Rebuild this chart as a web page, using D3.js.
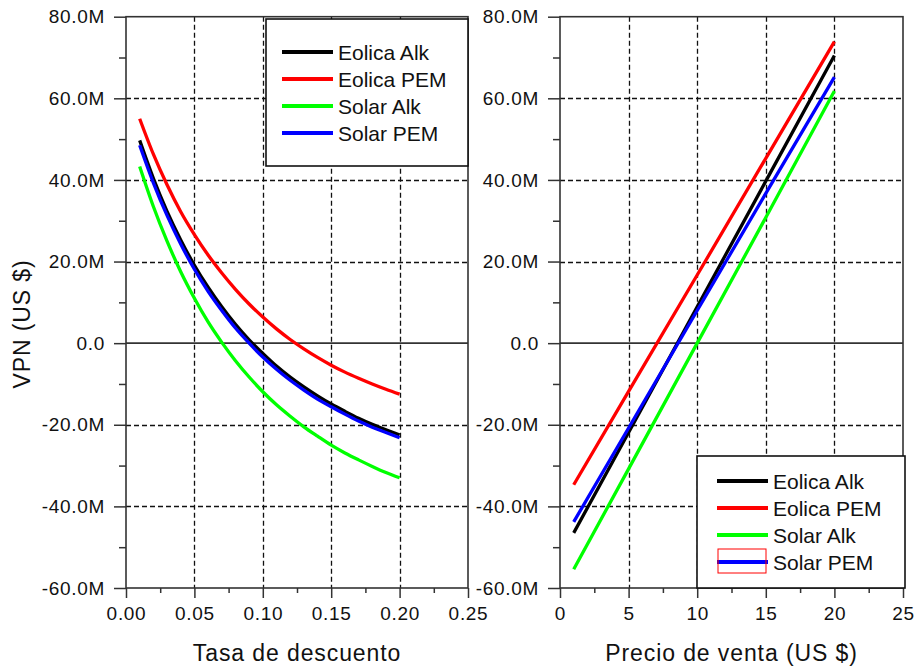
<!DOCTYPE html>
<html>
<head>
<meta charset="utf-8">
<script src="https://cdn.jsdelivr.net/npm/d3@7"></script>
<style>
  body { margin: 0; background: #fff; }
  svg { font-family: "Liberation Sans", Arial, sans-serif; }
</style>
</head>
<body>
<svg width="915" height="669"></svg>
<script>
// series names / colours
const seriesNames = ["Eolica Alk", "Eolica PEM", "Solar Alk", "Solar PEM"];
const seriesColors = ["#000000", "#ff0000", "#00ff00", "#0000ff"];

// left panel: VPN (M US$) vs discount rate
const discountRates = [0.01, 0.02, 0.03, 0.04, 0.05, 0.06, 0.07, 0.08, 0.09, 0.10,
  0.11, 0.12, 0.13, 0.14, 0.15, 0.16, 0.17, 0.18, 0.19, 0.20];
const eolicaAlkRate = [49.7, 40.4, 32.3, 25.3, 19.1, 13.7, 8.9, 4.6, 0.8, -2.5,
  -5.6, -8.3, -10.7, -12.9, -14.9, -16.7, -18.4, -19.9, -21.2, -22.5];
const eolicaPemRate = [55.0, 46.3, 38.8, 32.2, 26.6, 21.6, 17.2, 13.2, 9.6, 6.4,
  3.5, 0.9, -1.4, -3.5, -5.4, -7.1, -8.6, -10.0, -11.3, -12.5];
const solarAlkRate = [43.3, 33.5, 25.0, 17.5, 11.0, 5.2, 0.2, -4.3, -8.3, -11.9,
  -15.1, -17.9, -20.5, -22.8, -25.0, -26.9, -28.6, -30.2, -31.7, -33.0];
const solarPemRate = [48.5, 39.3, 31.3, 24.3, 18.1, 12.7, 8.0, 3.7, 0.0, -3.4,
  -6.4, -9.1, -11.5, -13.7, -15.6, -17.4, -19.1, -20.6, -21.9, -23.2];

// right panel: VPN (M US$) vs sale price
const salePrices = [1, 5, 10, 15, 20];
const eolicaAlkPrice = [-46.5, -21.9, 8.9, 39.7, 70.5];
const eolicaPemPrice = [-34.7, -11.8, 16.7, 45.3, 73.9];
const solarAlkPrice = [-55.4, -30.8, 0.0, 30.8, 61.8];
const solarPemPrice = [-43.8, -20.8, 8.0, 36.7, 65.2];

// tick values
const yTicks = [-60, -40, -20, 0, 20, 40, 60, 80];
const yMinor = [-50, -30, -10, 10, 30, 50, 70];
const rateTicks = [0, 0.05, 0.10, 0.15, 0.20, 0.25];
const rateMinor = [0.025, 0.075, 0.125, 0.175, 0.225];
const priceTicks = [0, 5, 10, 15, 20, 25];
const priceMinor = [2.5, 7.5, 12.5, 17.5, 22.5];

const svg = d3.select("svg");
const plotTop = 16.7, plotBottom = 588;
const axisColor = "#333";
const textColor = "#111";
const snap = v => Math.round(v) + 0.5;

const y = d3.scaleLinear().domain([-60, 80]).range([plotBottom, plotTop]);
const yFmt = d => d === 0 ? "0.0" : d.toFixed(1) + "M";

function drawPanel(opt) {
  const x = opt.x;
  const g = svg.append("g");
  const [x0, x1] = x.range();

  // dashed grid
  g.selectAll(".vgrid")
    .data(opt.ticks.filter(t => t !== opt.ticks[0] && t !== opt.ticks[opt.ticks.length - 1]))
    .enter().append("line")
    .attr("x1", d => snap(x(d))).attr("x2", d => snap(x(d)))
    .attr("y1", plotTop).attr("y2", plotBottom)
    .attr("stroke", "#111").attr("stroke-width", 1.3).attr("stroke-dasharray", "5,3");
  g.selectAll(".hgrid")
    .data(yTicks.filter(t => t !== 0 && t !== -60 && t !== 80))
    .enter().append("line")
    .attr("x1", x0).attr("x2", x1)
    .attr("y1", d => snap(y(d))).attr("y2", d => snap(y(d)))
    .attr("stroke", "#111").attr("stroke-width", 1.3).attr("stroke-dasharray", "5,3");
  // zero line
  g.append("line")
    .attr("x1", x0).attr("x2", x1).attr("y1", y(0)).attr("y2", y(0))
    .attr("stroke", axisColor).attr("stroke-width", 1.6);

  // curves
  const line = d3.line()
    .x(d => x(d[0])).y(d => y(d[1]))
    .curve(opt.curve);
  opt.series.forEach((vals, i) => {
    g.append("path")
      .datum(opt.xs.map((v, j) => [v, vals[j]]))
      .attr("fill", "none")
      .attr("stroke", seriesColors[i])
      .attr("stroke-width", 3.3)
      .attr("d", line);
  });

  // axes
  g.append("g").attr("transform", `translate(${x0},0)`)
    .call(d3.axisLeft(y).tickValues(yTicks).tickSize(12).tickPadding(9).tickFormat(yFmt));
  g.append("g").attr("transform", `translate(${x0},0)`)
    .call(d3.axisLeft(y).tickValues(yMinor).tickSize(7).tickFormat(""));
  g.append("g").attr("transform", `translate(0,${plotBottom})`)
    .call(d3.axisBottom(x).tickValues(opt.ticks).tickSize(10).tickPadding(9).tickFormat(opt.fmt));
  g.append("g").attr("transform", `translate(0,${plotBottom})`)
    .call(d3.axisBottom(x).tickValues(opt.minor).tickSize(5).tickFormat(""));
  g.selectAll(".domain").remove();
  g.selectAll(".tick line").attr("stroke", axisColor).attr("stroke-width", 1.5);
  g.selectAll(".tick text")
    .attr("fill", textColor)
    .style("font-size", "19px")
    .style("letter-spacing", "0.7px");

  // frame
  g.append("rect")
    .attr("x", x0).attr("y", plotTop)
    .attr("width", x1 - x0).attr("height", plotBottom - plotTop)
    .attr("fill", "none").attr("stroke", axisColor).attr("stroke-width", 1.6);

  // x title
  g.append("text")
    .attr("x", (x0 + x1) / 2).attr("y", 661)
    .attr("text-anchor", "middle")
    .attr("fill", textColor)
    .style("font-size", "23px")
    .style("letter-spacing", "0.9px")
    .text(opt.title);

  // legend
  const L = opt.legend;
  const lg = g.append("g");
  lg.append("rect")
    .attr("x", L.x).attr("y", L.y).attr("width", L.w).attr("height", L.h)
    .attr("fill", "#fff").attr("stroke", "#111").attr("stroke-width", 1.6);
  seriesNames.forEach((name, i) => {
    const ly = L.first + i * 27;
    lg.append("line")
      .attr("x1", L.x + L.lineX).attr("x2", L.x + L.lineX + 51)
      .attr("y1", ly).attr("y2", ly)
      .attr("stroke", seriesColors[i]).attr("stroke-width", 4);
    lg.append("text")
      .attr("x", L.x + L.lineX + 56).attr("y", ly + 7.5)
      .attr("fill", textColor)
      .style("font-size", "21px")
      .text(name);
  });
  return lg;
}

drawPanel({
  x: d3.scaleLinear().domain([0, 0.25]).range([126, 468]),
  xs: discountRates,
  series: [eolicaAlkRate, eolicaPemRate, solarAlkRate, solarPemRate],
  curve: d3.curveMonotoneX,
  ticks: rateTicks, minor: rateMinor,
  fmt: d => d.toFixed(2),
  title: "Tasa de descuento",
  legend: { x: 266, y: 19, w: 202, h: 147, first: 52, lineX: 16 }
});

const rightLegend = drawPanel({
  x: d3.scaleLinear().domain([0, 25]).range([560, 903]),
  xs: salePrices,
  series: [eolicaAlkPrice, eolicaPemPrice, solarAlkPrice, solarPemPrice],
  curve: d3.curveLinear,
  ticks: priceTicks, minor: priceMinor,
  fmt: d => d3.format("d")(d),
  title: "Precio de venta (US $)",
  legend: { x: 697, y: 456, w: 208, h: 132, first: 481, lineX: 20 }
});
// selection box around the last legend sample
rightLegend.append("rect")
  .attr("x", 718).attr("y", 549).attr("width", 48).attr("height", 24)
  .attr("fill", "none").attr("stroke", "#ff0000").attr("stroke-width", 1);

// y title
svg.append("text")
  .attr("transform", "translate(30,324) rotate(-90)")
  .attr("text-anchor", "middle")
  .attr("fill", textColor)
  .style("font-size", "23px")
  .style("letter-spacing", "0.9px")
  .text("VPN (US $)");
</script>
</body>
</html>
